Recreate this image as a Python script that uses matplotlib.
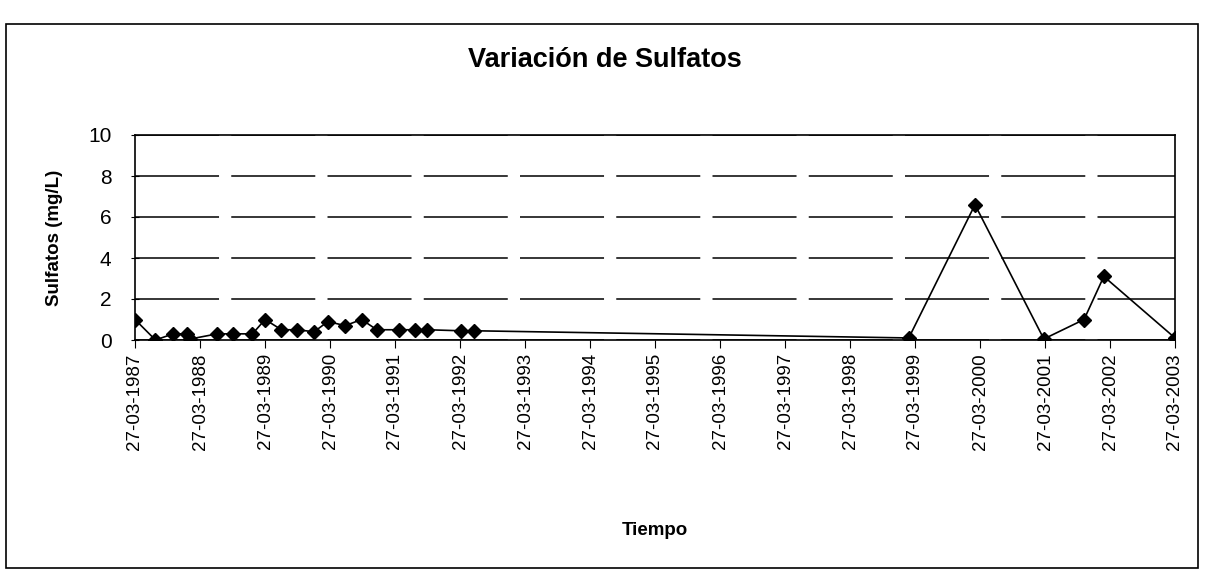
import matplotlib
matplotlib.use("Agg")
import matplotlib.pyplot as plt
import matplotlib.dates as mdates
from matplotlib.patches import Rectangle
from datetime import datetime

plt.rcParams['font.family'] = ['Liberation Sans', 'DejaVu Sans']

# muestreos (fecha, sulfatos mg/L)
fechas = ['1987-03-27', '1987-07-20', '1987-10-27', '1988-01-15', '1988-02-01',
          '1988-07-01', '1988-09-30', '1989-01-15', '1989-03-27', '1989-06-27',
          '1989-09-25', '1989-12-27', '1990-03-15', '1990-06-20', '1990-09-20',
          '1990-12-15', '1991-04-20', '1991-07-20', '1991-09-25', '1992-04-01',
          '1992-06-15', '1999-02-20', '2000-02-27', '2001-03-20', '2001-11-01',
          '2002-02-20', '2003-03-27']
sulfatos = [1.0, 0.0, 0.3, 0.3, 0.05,
            0.3, 0.3, 0.3, 1.0, 0.5,
            0.5, 0.4, 0.9, 0.7, 1.0,
            0.5, 0.5, 0.5, 0.5, 0.45,
            0.45, 0.1, 6.6, 0.05, 1.0,
            3.1, 0.1]
anios = list(range(1987, 2004))

x = [datetime.strptime(f, '%Y-%m-%d') for f in fechas]
ticks = [datetime(a, 3, 27) for a in anios]

fig = plt.figure(figsize=(12.09, 5.73), dpi=100)
ax = fig.add_axes([135/1209, 1 - 340/573, 1040/1209, 205/573])

ax.plot(x, sulfatos, color='black', lw=1.2, marker='D', ms=7, mfc='black', mec='black')

ax.set_ylim(0, 10)
ax.set_yticks([0, 2, 4, 6, 8, 10])
ax.set_xlim(ticks[0], ticks[-1])
ax.set_xticks(ticks)
ax.xaxis.set_major_formatter(mdates.DateFormatter('%d-%m-%Y'))
ax.tick_params(axis='x', labelrotation=90, labelsize=13.5, length=6, direction='out', color='black')
ax.tick_params(axis='y', labelsize=15, length=6, direction='inout', pad=14)
ax.yaxis.grid(True, color='black', lw=1.1, linestyle=(0, (55, 8)))
ax.set_axisbelow(True)
for s in ax.spines.values():
    s.set_color('black')
    s.set_linewidth(1.2)

ax.set_ylabel('Sulfatos (mg/L)', fontsize=13.5, fontweight='bold', labelpad=18)
ax.set_xlabel('Tiempo', fontsize=13.5, fontweight='bold', labelpad=52)
fig.text(0.5, 1 - 60/573, 'Variación de Sulfatos', ha='center', va='center',
         fontsize=19.5, fontweight='bold')

# marco exterior del grafico
fig.patches.append(Rectangle((6/1209, 1 - 568/573), 1192/1209, 544/573,
                             transform=fig.transFigure, fill=False,
                             edgecolor='black', lw=1.2))

fig.savefig('out.png', dpi=100)
